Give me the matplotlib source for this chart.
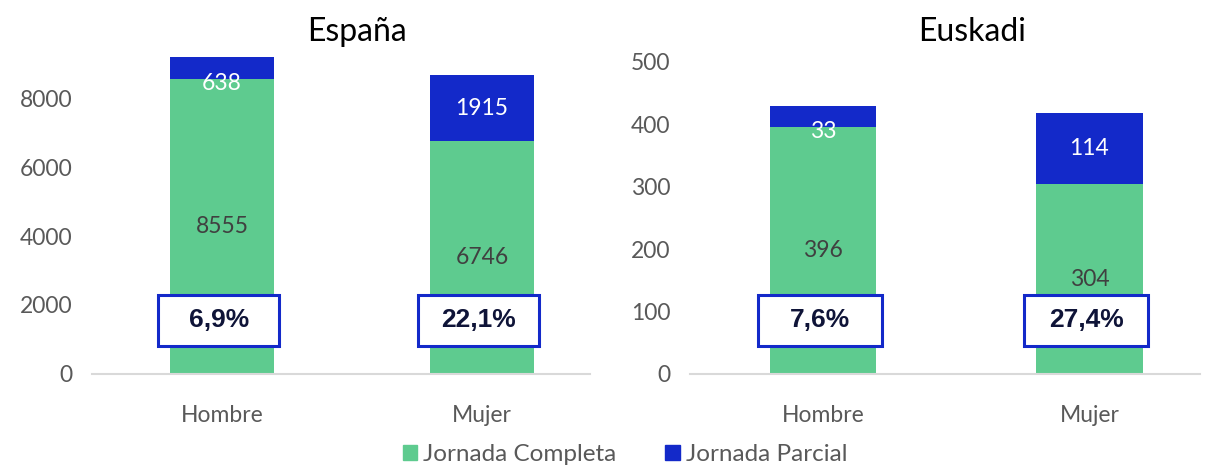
import matplotlib.pyplot as plt
import matplotlib.transforms as mtransforms
from matplotlib.patches import Rectangle, Patch

plt.rcParams['font.family'] = ['Lato', 'DejaVu Sans']

# ---------------------------------------------------------
# Data
# ---------------------------------------------------------
categories = ['Hombre', 'Mujer']
espana_completa = [8555, 6746]
espana_parcial = [638, 1915]
euskadi_completa = [396, 304]
euskadi_parcial = [33, 114]
espana_pct = ['6,9%', '22,1%']
euskadi_pct = ['7,6%', '27,4%']

green = '#5ECB8F'
blue = '#1329C9'
grey_txt = '#595959'

fig = plt.figure(figsize=(12.11, 4.68), dpi=100)
ax1 = fig.add_axes([0.076, 0.2009, 0.411, 0.737])
ax2 = fig.add_axes([0.5698, 0.2009, 0.421, 0.6667])


def draw_panel(ax, completa, parcial, pct, ymax, yticks, min_h):
    x = list(range(len(categories)))
    ax.bar(x, completa, width=0.4, color=green, zorder=2)
    ax.bar(x, parcial, width=0.4, bottom=completa, color=blue, zorder=2)
    for i in x:
        ax.text(i, completa[i] / 2, str(completa[i]), ha='center', va='center',
                fontsize=16.5, color='#404040', zorder=3)
        # small top segments get their label pushed down, like in Excel
        yoff = -11 if parcial[i] < min_h else 0
        ax.annotate(str(parcial[i]), (i, completa[i] + parcial[i] / 2),
                    xytext=(0, yoff), textcoords='offset points',
                    ha='center', va='center', fontsize=16.5, color='white', zorder=3)
    # percentage boxes
    trans = mtransforms.blended_transform_factory(ax.transData, fig.transFigure)
    for i in x:
        ax.add_patch(Rectangle((i - 0.245, 0.2607), 0.466, 0.109, transform=trans,
                               facecolor='white', edgecolor=blue, linewidth=2.2,
                               zorder=4, clip_on=False))
        ax.text(i - 0.012, 0.3152, pct[i], transform=trans, ha='center', va='center',
                fontsize=19, fontweight='bold', color='#0F1438',
                family='Liberation Sans', zorder=5)
    ax.set_xlim(-0.5, 1.415)
    ax.set_ylim(0, ymax)
    ax.set_yticks(yticks)
    ax.set_xticks(x)
    ax.set_xticklabels(categories)
    ax.tick_params(length=0, labelsize=16.5, colors=grey_txt)
    ax.tick_params(axis='x', pad=22)
    ax.tick_params(axis='y', pad=14)
    for s in ['top', 'right', 'left']:
        ax.spines[s].set_visible(False)
    ax.spines['bottom'].set_color('#D9D9D9')
    ax.spines['bottom'].set_linewidth(1.5)


draw_panel(ax1, espana_completa, espana_parcial, espana_pct,
           10000, [0, 2000, 4000, 6000, 8000], 1000)
draw_panel(ax2, euskadi_completa, euskadi_parcial, euskadi_pct,
           500, [0, 100, 200, 300, 400, 500], 50)
fig.text(357 / 1211, 1 - 32 / 468, 'España', ha='center', va='center', fontsize=23)
fig.text(972 / 1211, 1 - 32 / 468, 'Euskadi', ha='center', va='center', fontsize=23)

handles = [Patch(color=green, label='Jornada Completa'),
           Patch(color=blue, label='Jornada Parcial')]
fig.legend(handles=handles, loc='lower center', bbox_to_anchor=(0.516, -0.04),
           ncol=2, frameon=False, fontsize=17.5, handlelength=0.6, handleheight=0.6,
           handletextpad=0.25, columnspacing=2.0, labelcolor=grey_txt)

plt.savefig('out.png', dpi=100)
